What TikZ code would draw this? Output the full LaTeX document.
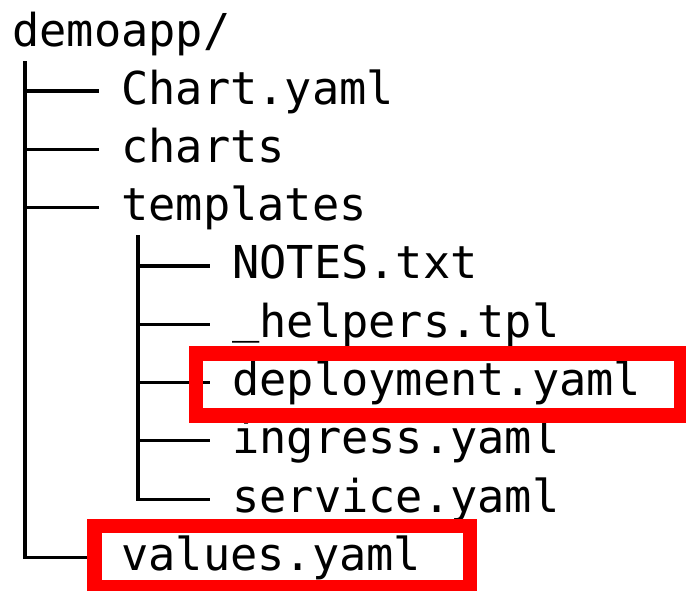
\documentclass[tikz,border=0pt]{standalone}
\usepackage{fontspec}
\setmonofont{DejaVu Sans Mono}
\tikzset{
  entry/.style={anchor=west,inner xsep=22pt,inner ysep=0pt,text height=34pt,text depth=8pt,
    font=\ttfamily\fontsize{45.3}{50}\selectfont},
  branch/.style={line width=3.2pt},
  hlbox/.style={draw=red,line width=14.5pt}
}
\begin{document}
\begin{tikzpicture}[x=1pt,y=-1pt]
  \useasboundingbox (0,0) rectangle (686,590);
  \node[entry,inner xsep=0pt] (root) at (12,33) {demoapp/};
  \node[entry] (chart) at (99,91) {Chart.yaml};
  \node[entry] (charts) at (99,149.3) {charts};
  \node[entry] (tmpl) at (99,207.6) {templates};
  \node[entry] (notes) at (210,265.9) {NOTES.txt};
  \node[entry] (helpers) at (210,324.2) {\raisebox{5pt}{\char`\_}helpers.tpl};
  \node[entry] (deploy) at (210,382.5) {deployment.yaml};
  \node[entry] (ingress) at (210,440.8) {ingress.yaml};
  \node[entry] (service) at (210,499.1) {service.yaml};
  \node[entry] (values) at (99,557.4) {values.yaml};
  % tree lines
  \coordinate (trunk) at (25,61);
  \coordinate (subtrunk) at (138,235);
  \draw[branch] (trunk) |- (values.west);
  \foreach \n in {chart,charts,tmpl}
    \draw[branch] (trunk |- \n.west) -- (\n.west);
  \draw[branch] (subtrunk) |- (service.west);
  \foreach \n in {notes,helpers,deploy,ingress}
    \draw[branch] (subtrunk |- \n.west) -- (\n.west);
  % highlighted files
  \draw[hlbox] (196,353.5) rectangle (681,415.5);
  \draw[hlbox] (94.5,526) rectangle (470,587);
\end{tikzpicture}
\end{document}
